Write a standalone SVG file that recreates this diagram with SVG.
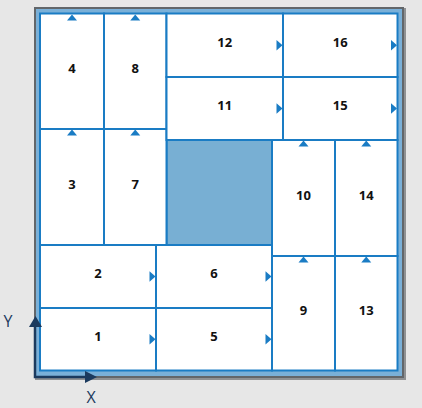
<svg xmlns="http://www.w3.org/2000/svg" width="422" height="408" viewBox="0 0 422 408">
<style>
.cell{fill:#ffffff;stroke:#1a7cc4;stroke-width:2}
.shade{fill:#78afd3;stroke:#1a7cc4;stroke-width:2}
.lbl{font-family:"Open Sans","Noto Sans",sans-serif;font-weight:bold;font-size:13px;fill:#111111;text-anchor:middle}
.tri{fill:#1a7cc4}
.ax{stroke:#1b3a5e;stroke-width:2.5;fill:none}
.axh{fill:#1b3a5e}
.axl{font-family:"Open Sans","Noto Sans",sans-serif;font-size:16px;fill:#1b3a5e;text-anchor:middle}
</style>
<rect x="0" y="0" width="422" height="408" fill="#e7e7e7"/>
<g id="frame">
<rect x="35" y="8" width="371" height="372" fill="#8f9193"/>
<rect x="34" y="7" width="370" height="371" fill="#62666a"/>
<rect x="36" y="9" width="366" height="367" fill="#7ab0d8"/>
</g>
<g id="shaded"><rect class="shade" x="166.5" y="140" width="105.5" height="105"/></g>
<g id="n4"><rect class="cell" x="40" y="13.5" width="64" height="115.5"/><text class="lbl" x="72" y="73">4</text></g>
<g id="n8"><rect class="cell" x="104" y="13.5" width="62.5" height="115.5"/><text class="lbl" x="135.25" y="73">8</text></g>
<g id="n3"><rect class="cell" x="40" y="129" width="64" height="116"/><text class="lbl" x="72" y="188.5">3</text></g>
<g id="n7"><rect class="cell" x="104" y="129" width="62.5" height="116"/><text class="lbl" x="135.25" y="188.5">7</text></g>
<g id="n12"><rect class="cell" x="166.5" y="13.5" width="116.5" height="63.5"/><text class="lbl" x="224.75" y="46.5">12</text></g>
<g id="n16"><rect class="cell" x="283" y="13.5" width="114.5" height="63.5"/><text class="lbl" x="340.25" y="46.5">16</text></g>
<g id="n11"><rect class="cell" x="166.5" y="77" width="116.5" height="63"/><text class="lbl" x="224.75" y="109.5">11</text></g>
<g id="n15"><rect class="cell" x="283" y="77" width="114.5" height="63"/><text class="lbl" x="340.25" y="109.5">15</text></g>
<g id="n10"><rect class="cell" x="272" y="140" width="63" height="116"/><text class="lbl" x="303.5" y="199.5">10</text></g>
<g id="n14"><rect class="cell" x="335" y="140" width="62.5" height="116"/><text class="lbl" x="366.25" y="199.5">14</text></g>
<g id="n9"><rect class="cell" x="272" y="256" width="63" height="114.5"/><text class="lbl" x="303.5" y="314.5">9</text></g>
<g id="n13"><rect class="cell" x="335" y="256" width="62.5" height="114.5"/><text class="lbl" x="366.25" y="314.5">13</text></g>
<g id="n2"><rect class="cell" x="40" y="245" width="116" height="63"/><text class="lbl" x="98" y="277.5">2</text></g>
<g id="n6"><rect class="cell" x="156" y="245" width="116" height="63"/><text class="lbl" x="214" y="277.5">6</text></g>
<g id="n1"><rect class="cell" x="40" y="308" width="116" height="62.5"/><text class="lbl" x="98" y="340.5">1</text></g>
<g id="n5"><rect class="cell" x="156" y="308" width="116" height="62.5"/><text class="lbl" x="214" y="340.5">5</text></g>
<g id="connectors">
<polygon class="tri" points="67,20.5 72,14.5 77,20.5"/>
<polygon class="tri" points="130.25,20.5 135.25,14.5 140.25,20.5"/>
<polygon class="tri" points="67,135.5 72,129.5 77,135.5"/>
<polygon class="tri" points="130.25,135.5 135.25,129.5 140.25,135.5"/>
<polygon class="tri" points="298.5,146.5 303.5,140.5 308.5,146.5"/>
<polygon class="tri" points="361.25,146.5 366.25,140.5 371.25,146.5"/>
<polygon class="tri" points="298.5,262.5 303.5,256.5 308.5,262.5"/>
<polygon class="tri" points="361.25,262.5 366.25,256.5 371.25,262.5"/>
<polygon class="tri" points="276.5,40 282.5,45.25 276.5,50.5"/>
<polygon class="tri" points="391,40 397,45.25 391,50.5"/>
<polygon class="tri" points="276.5,103.25 282.5,108.5 276.5,113.75"/>
<polygon class="tri" points="391,103.25 397,108.5 391,113.75"/>
<polygon class="tri" points="149.5,271.25 155.5,276.5 149.5,281.75"/>
<polygon class="tri" points="265.5,271.25 271.5,276.5 265.5,281.75"/>
<polygon class="tri" points="149.5,334 155.5,339.25 149.5,344.5"/>
<polygon class="tri" points="265.5,334 271.5,339.25 265.5,344.5"/>
</g>
<g id="axes">
<polyline class="ax" points="35,326 35,377 86,377"/>
<polygon class="axh" points="29,327 35.5,316 42,327"/>
<polygon class="axh" points="85,371 97,377 85,383"/>
<text class="axl" x="8" y="327">Y</text>
<text class="axl" x="91" y="403">X</text>
</g>
</svg>
